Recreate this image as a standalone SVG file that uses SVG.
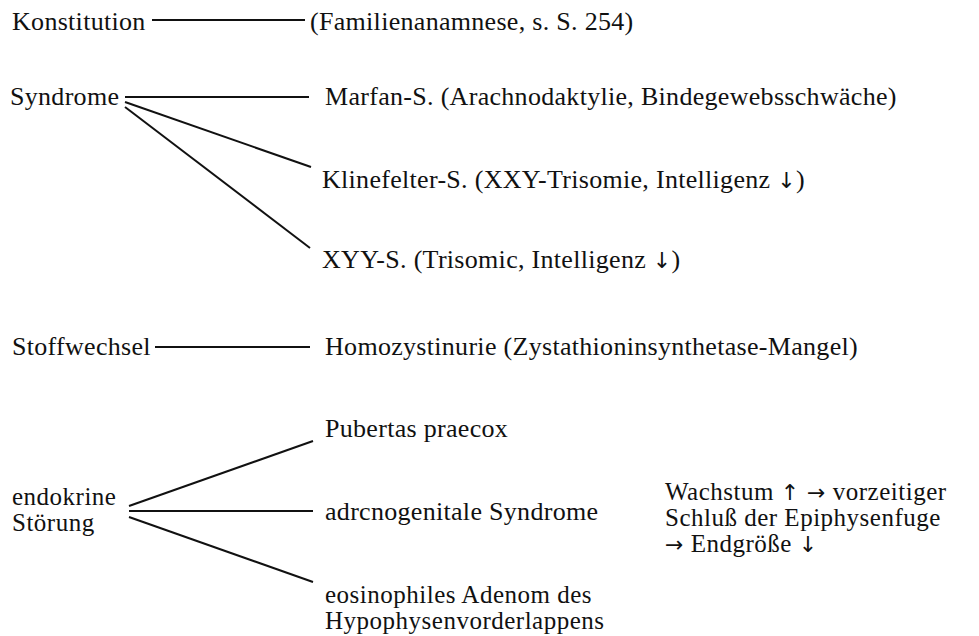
<svg xmlns="http://www.w3.org/2000/svg" width="979" height="636" viewBox="0 0 979 636">
<style>
text{font-family:"Liberation Serif","Times New Roman",serif;font-size:26px;letter-spacing:0.3px;fill:#111}
.w{font-size:25px;letter-spacing:0.5px}
.a{font-family:"DejaVu Sans",sans-serif;font-size:22px}
.c line{stroke:#111;stroke-width:2;fill:none}
</style>
<rect width="979" height="636" fill="#fff"/>
<g class="c" id="connectors">
<line x1="152" y1="20" x2="305" y2="20"/>
<line x1="125" y1="97" x2="309" y2="97"/>
<line x1="125" y1="102" x2="311" y2="167"/>
<line x1="125" y1="107" x2="310" y2="248"/>
<line x1="155" y1="347" x2="310" y2="347"/>
<line x1="129" y1="506" x2="313" y2="441"/>
<line x1="129" y1="511" x2="313" y2="511"/>
<line x1="129" y1="517" x2="313" y2="582"/>
</g>
<g id="konstitution"><text x="12" y="30">Konstitution</text></g>
<g id="familienanamnese"><text x="310" y="30">(Familienanamnese, s. S. 254)</text></g>
<g id="syndrome"><text x="10" y="105">Syndrome</text></g>
<g id="marfan"><text x="325" y="105">Marfan-S. (Arachnodaktylie, Bindegewebsschwäche)</text></g>
<g id="klinefelter"><text x="322" y="188">Klinefelter-S. (XXY-Trisomie, Intelligenz <tspan class="a">↓</tspan>)</text></g>
<g id="xyy"><text x="322" y="268">XYY-S. (Trisomic, Intelligenz <tspan class="a">↓</tspan>)</text></g>
<g id="stoffwechsel"><text x="12" y="355">Stoffwechsel</text></g>
<g id="homozystinurie"><text x="325" y="355">Homozystinurie (Zystathioninsynthetase-Mangel)</text></g>
<g id="endokrine"><text class="w" x="12" y="505">endokrine</text><text class="w" x="12" y="531">Störung</text></g>
<g id="pubertas"><text x="325" y="437">Pubertas praecox</text></g>
<g id="adrenogenital"><text x="325" y="520">adrcnogenitale Syndrome</text></g>
<g id="adenom"><text class="w" x="325" y="603">eosinophiles Adenom des</text><text class="w" x="325" y="629">Hypophysenvorderlappens</text></g>
<g id="wachstum"><text class="w" x="665" y="500">Wachstum <tspan class="a">↑ →</tspan> vorzeitiger</text><text class="w" x="665" y="526">Schluß der Epiphysenfuge</text><text class="w" x="665" y="552"><tspan class="a">→</tspan> Endgröße <tspan class="a">↓</tspan></text></g>
</svg>
